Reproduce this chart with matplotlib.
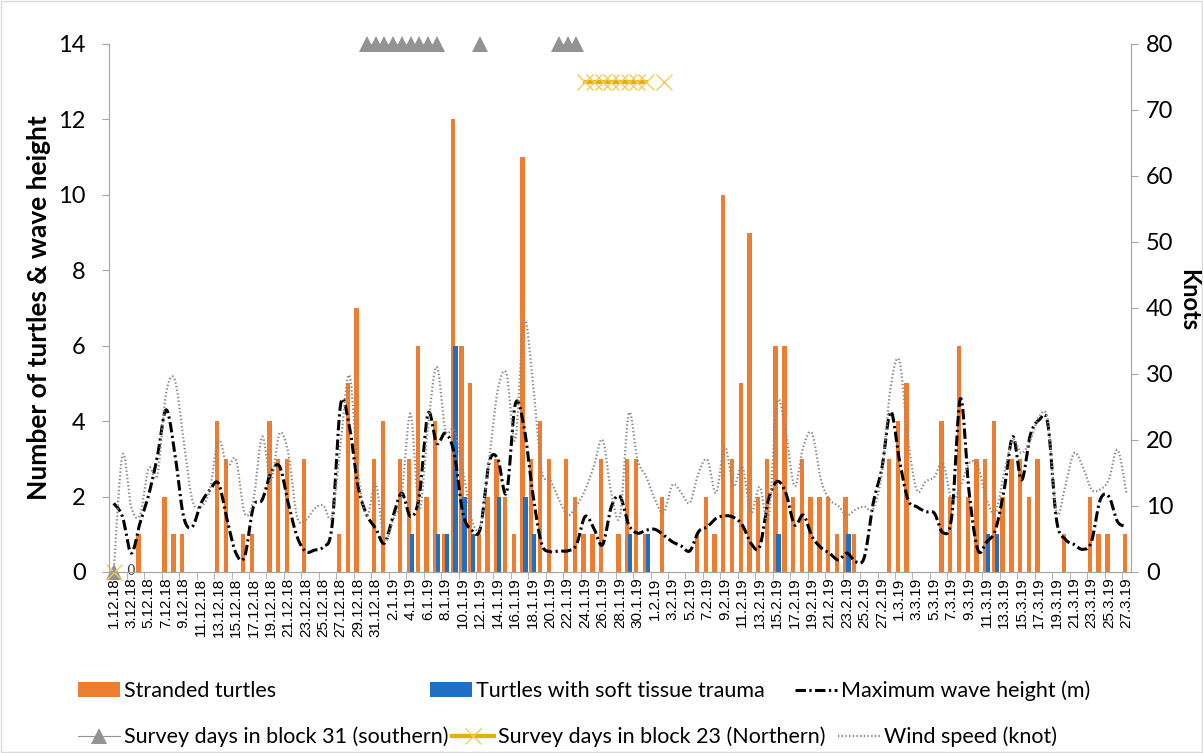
import numpy as np
import pandas as pd
import matplotlib
matplotlib.use("Agg")
import matplotlib.pyplot as plt
from matplotlib.patches import Rectangle

plt.rcParams["lines.scale_dashes"] = False

# ---------- data: 1 Dec 2018 .. 27 Mar 2019, one value per day ----------
dates = pd.date_range("2018-12-01", "2019-03-27", freq="D")
day_labels = [f"{d.day}.{d.month}.{d.year % 100}" for d in dates]

stranded = [0, 0, 0, 1, 0, 0, 2, 1, 1, 0,
            0, 0, 4, 3, 0, 1, 1, 0, 4, 3,
            3, 0, 3, 0, 0, 0, 1, 5, 7, 0,
            3, 4, 0, 3, 3, 6, 2, 4, 1, 12,
            6, 5, 1, 2, 3, 2, 1, 11, 3, 4,
            3, 0, 3, 2, 1, 1, 3, 0, 1, 3,
            3, 1, 0, 2, 0, 0, 0, 1, 2, 1,
            10, 3, 5, 9, 2, 3, 6, 6, 2, 3,
            2, 2, 2, 1, 2, 1, 0, 0, 0, 3,
            4, 5, 0, 0, 0, 4, 2, 6, 2, 3,
            3, 4, 2, 3, 3, 2, 3, 0, 0, 1,
            0, 0, 2, 1, 1, 0, 1]

soft_tissue = [0] * 34 + [1, 0, 0, 1, 1, 6, 2, 1, 0, 0, 2, 0, 0, 2, 1] + [0] * 10 \
    + [1, 0, 1] + [0] * 14 + [1] + [0] * 7 + [1] + [0] * 15 + [1, 1] + [0] * 15

wave_height = [1.82, 1.47, 0.50, 1.29, 2.04, 3.06, 4.30, 3.15, 1.47, 1.20,
               1.82, 2.17, 2.35, 1.38, 0.50, 0.41, 1.73, 1.91, 2.62, 2.80,
               1.82, 0.94, 0.54, 0.58, 0.67, 1.20, 4.45, 3.85, 2.26, 1.51,
               1.16, 0.76, 1.47, 2.09, 1.47, 2.00, 4.20, 3.41, 3.68, 3.15,
               1.56, 1.11, 1.16, 2.90, 3.00, 2.10, 4.45, 3.85, 2.09, 0.76,
               0.54, 0.56, 0.56, 0.72, 1.47, 1.16, 0.72, 1.73, 2.00, 1.25,
               1.03, 1.11, 1.13, 0.98, 0.80, 0.69, 0.56, 1.07, 1.20, 1.42,
               1.49, 1.45, 1.25, 0.76, 0.67, 1.91, 2.40, 2.09, 1.25, 1.51,
               0.94, 0.65, 0.50, 0.32, 0.50, 0.27, 0.40, 1.82, 2.75, 4.25,
               2.97, 1.91, 1.73, 1.60, 1.56, 1.04, 1.47, 4.60, 2.09, 0.58,
               0.80, 1.11, 2.18, 3.59, 2.44, 3.63, 4.03, 3.94, 1.38, 0.87,
               0.73, 0.60, 0.80, 1.91, 2.00, 1.33, 1.22]

wind_speed = [0.0, 17.7, 9.9, 8.6, 15.7, 14.7, 27.1, 29.1, 20.0, 10.9,
              9.9, 12.4, 20.0, 16.0, 17.0, 8.9, 10.9, 20.5, 13.9, 21.0,
              18.0, 8.4, 7.9, 9.6, 10.1, 8.4, 19.5, 29.8, 15.0, 8.4,
              13.4, 4.8, 7.9, 11.9, 24.0, 9.4, 22.0, 31.1, 21.5, 21.5,
              15.5, 8.0, 7.0, 17.0, 27.6, 30.0, 20.0, 38.0, 29.0, 15.5,
              14.0, 11.0, 8.6, 10.0, 12.4, 16.0, 20.0, 12.0, 8.5, 24.0,
              17.0, 14.4, 11.0, 9.0, 13.2, 12.0, 10.5, 15.0, 17.0, 12.0,
              19.0, 13.0, 16.0, 9.0, 12.9, 8.0, 25.6, 21.0, 13.0, 19.0,
              21.0, 14.0, 11.0, 10.0, 8.6, 9.5, 9.9, 9.5, 15.0, 28.0,
              32.0, 20.0, 12.4, 13.7, 14.4, 16.5, 10.9, 13.0, 16.5, 16.0,
              11.0, 9.0, 15.0, 20.0, 18.0, 20.0, 23.5, 23.0, 9.0, 13.0,
              18.0, 16.0, 12.5, 12.5, 14.0, 18.5, 12.0]

# survey days: dummy 0 on the first day, then marker rows near the top
nan = np.nan
survey_31 = [nan] * 117
survey_23 = [nan] * 117
survey_31[0] = 0
survey_23[0] = 0
for d in list(range(29, 38)) + [42, 51, 52, 53]:
    survey_31[d] = 14
for d in list(range(54, 62)) + [63]:
    survey_23[d] = 13

ORANGE = "#ED7D31"
BLUE = "#1F6FC5"
GREY = "#939393"
GOLD = "#E5B000"


def smooth(x, y, n=16):
    # Bezier smoothing through every point (spreadsheet style smoothed line)
    x = np.asarray(x, float)
    y = np.asarray(y, float)
    xs, ys = [], []
    t = np.linspace(0, 1, n, endpoint=False)
    for i in range(len(x) - 1):
        a = max(i - 1, 0)
        b = min(i + 2, len(x) - 1)
        c1 = (x[i] + (x[i + 1] - x[a]) / 6, y[i] + (y[i + 1] - y[a]) / 6)
        c2 = (x[i + 1] - (x[b] - x[i]) / 6, y[i + 1] - (y[b] - y[i]) / 6)
        bx = ((1 - t) ** 3 * x[i] + 3 * (1 - t) ** 2 * t * c1[0]
              + 3 * (1 - t) * t ** 2 * c2[0] + t ** 3 * x[i + 1])
        by = ((1 - t) ** 3 * y[i] + 3 * (1 - t) ** 2 * t * c1[1]
              + 3 * (1 - t) * t ** 2 * c2[1] + t ** 3 * y[i + 1])
        xs.extend(bx)
        ys.extend(by)
    xs.append(x[-1])
    ys.append(y[-1])
    return np.array(xs), np.array(ys)


x = np.arange(len(dates))

fig = plt.figure(figsize=(12.03, 7.53), dpi=100)
ax = fig.add_axes([0.0909, 0.2404, 0.8490, 0.7012])
ax2 = ax.twinx()

bars_s = ax.bar(x - 0.17, stranded, width=0.5, color=ORANGE, zorder=2)
bars_t = ax.bar(x + 0.17, soft_tissue, width=0.5, color=BLUE, zorder=3)

wx, wy = smooth(x, wave_height)
wave_line, = ax.plot(wx, wy, color="black", lw=2.2, dashes=[7.5, 2.5, 1.6, 2.5],
                     zorder=5)

# survey markers sit on the top edge, so they must not be clipped
s31, = ax.plot(x, survey_31, color=GREY, lw=0.8, marker="^", ms=11,
               markerfacecolor=GREY, markeredgewidth=0, zorder=6,
               clip_on=False)
s23, = ax.plot(x, survey_23, color=GOLD, lw=3.0, marker="x", ms=11,
               mew=1.0, markeredgecolor="#F2CC5A", zorder=6, clip_on=False)
ax.annotate("0", (0, 0), xytext=(9, 1), textcoords="offset points",
            fontsize=10, family="DejaVu Serif", va="center", color="#404040")

vx, vy = smooth(x, wind_speed)
wind_line, = ax2.plot(vx, vy, color="#8A8A8A", lw=1.6, linestyle=":", zorder=4)

# axes
ax.set_xlim(-0.5, len(x) - 0.5)
ax.set_ylim(0, 14)
ax2.set_ylim(0, 80)
ax.set_yticks(range(0, 15, 2))
ax2.set_yticks(range(0, 81, 10))

ax.set_xticks(x[::2])
ax.set_xticklabels(day_labels[::2], rotation=90, fontsize=11,
                   family="Liberation Sans")
ax.set_xticks(np.arange(1.5, len(x) - 1, 2), minor=True)
ax.tick_params(axis="x", which="major", length=0, pad=4)
ax.tick_params(axis="x", which="minor", length=5, color="#A6A6A6")
ax.tick_params(axis="y", length=5, color="#A6A6A6", labelsize=17, pad=12)
ax2.tick_params(axis="y", length=5, color="#A6A6A6", labelsize=17, pad=6)
for lab in ax.get_yticklabels() + ax2.get_yticklabels():
    lab.set_family("Lato")

for a in (ax, ax2):
    a.spines["top"].set_visible(False)
    for side in ("left", "right", "bottom"):
        a.spines[side].set_color("#A6A6A6")
ax.patch.set_visible(False)

ax.set_ylabel("Number of turtles & wave height", fontsize=19, fontweight="bold",
              family="Lato")
ax.yaxis.set_label_coords(-0.057, 0.5)
fig.text(1189 / 1203, 1 - 300 / 753, "Knots", rotation=270, fontsize=17,
         fontweight="bold", family="Lato", ha="center", va="center")

# legend: two rows, each entry placed separately
entries = [
    (bars_s, "Stranded turtles", 78, 691),
    (bars_t, "Turtles with soft tissue trauma", 430, 691),
    (wave_line, "Maximum wave height (m)", 795, 691),
    (s31, "Survey days in block 31 (southern)", 78, 737),
    (s23, "Survey days in block 23 (Northern)", 452, 737),
    (wind_line, "Wind speed (knot)", 838, 737),
]
for handle, text, px, py in entries:
    leg = fig.legend([handle], [text], loc="center left",
                     bbox_to_anchor=(px / 1203, 1 - py / 753), frameon=False,
                     borderpad=0, borderaxespad=0, handlelength=1.95,
                     handletextpad=0.2, prop={"family": "Lato", "size": 15.5})

fig.add_artist(Rectangle((0.001, 0.001), 0.998, 0.998, transform=fig.transFigure,
                         fill=False, edgecolor="#D9D9D9", lw=1))

fig.savefig("out.png", dpi=100)
